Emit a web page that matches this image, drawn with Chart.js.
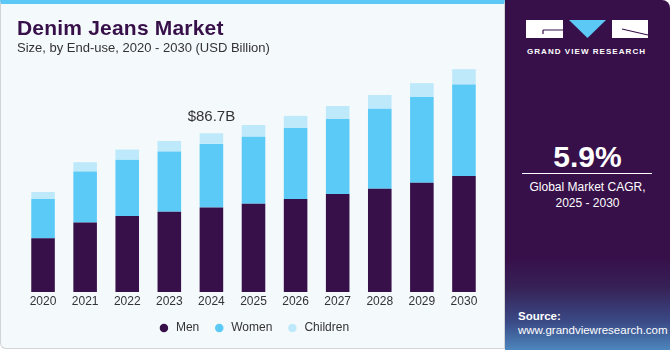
<!DOCTYPE html>
<html>
<head>
<meta charset="utf-8">
<script src="https://cdn.jsdelivr.net/npm/chart.js@4.4.0/dist/chart.umd.min.js"></script>
<style>
  body { margin: 0; width: 670px; height: 350px; overflow: hidden; background: #ffffff; font-family: "Liberation Sans", Arial, sans-serif; }
  #left { position: absolute; left: 0; top: 0; width: 503px; height: 344px; background: #f4f9fc; border: 1px solid #d2d4d6; border-top: 4px solid #5cc8f5; border-radius: 0 0 0 6px; box-sizing: content-box; }
  #chartWrap { position: absolute; left: 0; top: 0; width: 504px; height: 350px; }
  #title { position: absolute; left: 17px; top: 16px; font-size: 21px; font-weight: bold; color: #37104a; letter-spacing: 0.2px; }
  #subtitle { position: absolute; left: 17px; top: 40px; font-size: 13px; color: #333333; }
  #right { position: absolute; left: 505px; top: 0; width: 165px; height: 350px; border-radius: 0 8px 0 0;
    background: linear-gradient(to bottom, #37104a 0%, #37104a 74%, #362156 82%, #3a4a86 92%, #4d86bd 100%); color: #ffffff; }
  #brand { position: absolute; left: 22px; top: 47px; font-size: 8px; font-weight: bold; letter-spacing: 1.05px; white-space: nowrap; }
  #cagr { position: absolute; left: 0; width: 165px; top: 140px; text-align: center; font-size: 30px; font-weight: bold; }
  #rule { position: absolute; left: 17px; top: 173px; width: 130px; height: 1px; background: #ffffff; }
  #cagrText { position: absolute; left: 0; width: 165px; top: 180px; text-align: center; font-size: 12px; line-height: 15.5px; }
  #src { position: absolute; left: 13px; top: 310px; font-size: 11.5px; line-height: 13.5px; }
</style>
</head>
<body>
<div id="left"></div>
<div id="chartWrap"><canvas id="barChart" width="504" height="350"></canvas></div>
<div id="title">Denim Jeans Market</div>
<div id="subtitle">Size, by End-use, 2020 - 2030 (USD Billion)</div>
<div id="right">
  <svg style="position:absolute;left:21px;top:20px" width="124" height="19" viewBox="0 0 124 19">
    <rect x="0" y="0" width="37" height="18" fill="#ffffff"/>
    <path d="M17 10 H37 M17 10 V14" stroke="#37104a" stroke-width="1.2" fill="none"/>
    <polygon points="43,0 80,0 61.5,18" fill="#5cc8f5"/>
    <rect x="86" y="0" width="36" height="18" fill="#ffffff"/>
    <path d="M96 9 L122 15" stroke="#37104a" stroke-width="1.2" fill="none"/>
  </svg>
  <div id="brand">GRAND VIEW RESEARCH</div>
  <div id="cagr">5.9%</div>
  <div id="rule"></div>
  <div id="cagrText">Global Market CAGR,<br>2025 - 2030</div>
  <div id="src"><b>Source:</b><br>www.grandviewresearch.com</div>
</div>
<script>
var years = ["2020", "2021", "2022", "2023", "2024", "2025", "2026", "2027", "2028", "2029", "2030"];
var men = [29.3, 37.9, 41.5, 43.9, 46.1, 48.2, 50.8, 53.5, 56.4, 59.7, 63.4];
var women = [21.5, 27.9, 30.8, 32.8, 34.8, 36.6, 38.8, 41.0, 43.7, 46.8, 49.9];
var children = [3.8, 5.1, 5.5, 5.8, 5.8, 6.4, 6.6, 7.1, 7.5, 7.6, 8.4];
var calloutIndex = 4;
var calloutText = "$86.7B";

var calloutPlugin = {
    id: 'callout',
    afterDatasetsDraw: function(chart) {
        var total = men[calloutIndex] + women[calloutIndex] + children[calloutIndex];
        var x = chart.scales.x.getPixelForValue(calloutIndex);
        var y = chart.scales.y.getPixelForValue(total);
        var ctx = chart.ctx;
        ctx.save();
        ctx.font = '15px "Liberation Sans", Arial, sans-serif';
        ctx.fillStyle = '#333333';
        ctx.textAlign = 'center';
        ctx.textBaseline = 'bottom';
        ctx.fillText(calloutText, x, y - 9);
        ctx.restore();
    }
};

var ctx = document.getElementById("barChart").getContext('2d');
var myBarChart = new Chart(ctx, {
    type: 'bar',
    data: {
        labels: years,
        datasets: [
            { label: "Men", data: men, backgroundColor: '#37104a', borderWidth: 0 },
            { label: "Women", data: women, backgroundColor: '#5ccaf6', borderWidth: 0 },
            { label: "Children", data: children, backgroundColor: '#bde9fb', borderWidth: 0 }
        ]
    },
    options: {
        responsive: false,
        animation: false,
        layout: { padding: { left: 22, right: 19, top: 54, bottom: 6 } },
        datasets: { bar: { categoryPercentage: 0.8, barPercentage: 0.7 } },
        scales: {
            x: {
                stacked: true,
                grid: { display: false, drawTicks: false },
                border: { display: false },
                ticks: { color: '#333333', font: { size: 12, family: '"Liberation Sans", Arial, sans-serif' }, padding: 2 },
                afterFit: function(axis) { axis.height = 16; }
            },
            y: { stacked: true, display: false, min: 0, max: 130 }
        },
        plugins: {
            legend: {
                position: 'bottom',
                labels: {
                    usePointStyle: true,
                    pointStyle: 'circle',
                    boxWidth: 12,
                    boxHeight: 6,
                    padding: 14,
                    color: '#333333',
                    font: { size: 12, family: '"Liberation Sans", Arial, sans-serif' }
                }
            },
            tooltip: { enabled: false }
        }
    },
    plugins: [calloutPlugin]
});
</script>
</body>
</html>
